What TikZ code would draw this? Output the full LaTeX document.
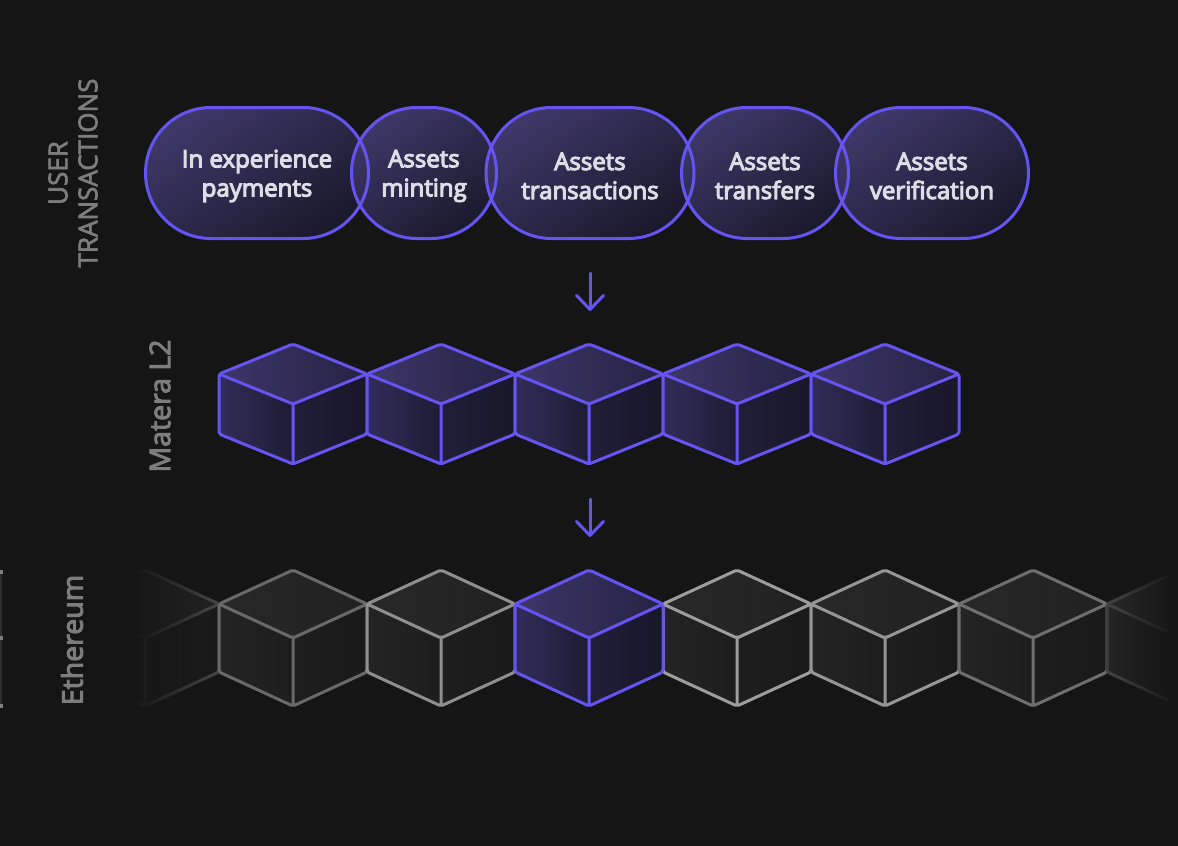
\documentclass[tikz,border=0pt]{standalone}
\usepackage{fontspec}
\setmainfont{Open Sans}
\newfontfamily\pillfont{Open Sans}[FakeBold=4.5]
\newfontfamily\rowfont{Open Sans}[FakeBold=3.5]
\newfontfamily\sidefont{Open Sans}[FakeBold=2.5]
\usetikzlibrary{arrows.meta,shapes.misc,fadings}

\definecolor{bg}{RGB}{21,21,22}
\definecolor{violet}{RGB}{102,84,240}
\definecolor{pilltop}{RGB}{62,55,104}
\definecolor{pillbot}{RGB}{27,25,44}
\definecolor{pilltext}{RGB}{222,221,230}
\definecolor{sidegrey}{RGB}{125,125,125}

\tikzfading[name=fadeleft, left color=transparent!0, right color=transparent!100]
\tikzfading[name=faderight, left color=transparent!100, right color=transparent!0]

\tikzset{
    pill/.style={rounded rectangle, minimum height=131pt, inner sep=0pt},
    pillfill/.style={pill, top color=pilltop, bottom color=pillbot, shading angle=35},
    pillline/.style={pill, draw=violet, line width=3pt},
    pilltext/.style={text=pilltext, align=center, inner sep=0pt,
        font=\pillfont\fontsize{24}{29}\selectfont},
    sidelabel/.style={rotate=90, align=center, text=sidegrey},
    flow/.style={violet, line width=3pt, line cap=round,
        -{Straight Barb[length=14pt, width=27pt, round]}},
    edge/.style={line width=3pt, line join=round, rounded corners=2pt},
    violettop/.style={left color={rgb,255:red,62;green,54;blue,105}, right color={rgb,255:red,38;green,34;blue,68}},
    violetleft/.style={left color={rgb,255:red,50;green,44;blue,90}, right color={rgb,255:red,30;green,28;blue,52}},
    violetright/.style={left color={rgb,255:red,33;green,30;blue,57}, right color={rgb,255:red,24;green,22;blue,40}},
    greytop/.style={left color={rgb,255:red,40;green,40;blue,40}, right color={rgb,255:red,33;green,33;blue,33}},
    greyleft/.style={left color={rgb,255:red,36;green,36;blue,36}, right color={rgb,255:red,29;green,29;blue,29}},
    greyright/.style={left color={rgb,255:red,30;green,30;blue,30}, right color={rgb,255:red,25;green,25;blue,25}},
    pics/block/.style args={#1/#2/#3}{code={
        \shade[#2top] (0,0) -- (74,#1) -- (0,2*#1) -- (-74,#1) -- cycle;
        \shade[#2left] (-74,#1) -- (0,2*#1) -- (0,4*#1) -- (-74,3*#1) -- cycle;
        \shade[#2right] (0,2*#1) -- (74,#1) -- (74,3*#1) -- (0,4*#1) -- cycle;
        \draw[edge, draw=#3] (0,0) -- (74,#1) -- (74,3*#1) -- (0,4*#1) -- (-74,3*#1) -- (-74,#1) -- cycle
            (-74,#1) -- (0,2*#1) -- (74,#1) (0,2*#1) -- (0,4*#1);
    }}
}

\begin{document}
\begin{tikzpicture}[x=1pt, y=-1pt]
    \useasboundingbox (0,0) rectangle (1178,846);
    \fill[bg] (0,0) rectangle (1178,846);

    % user transactions
    \node[sidelabel, font=\sidefont\fontsize{26}{30}\selectfont] (usertx) at (73,173) {USER\\TRANSACTIONS};
    \foreach \n/\x/\w in {pay/257/223, mint/424/145, trans/590/208, transf/765/167, verif/932/193}
        \node[pillfill, minimum width=\w pt] (\n-fill) at (\x,173) {};
    \foreach \n/\x/\w/\txt in {pay/257/223/{In experience\\payments},
                               mint/424/145/{Assets\\minting},
                               trans/590/208/{Assets\\transactions},
                               transf/765/167/{Assets\\transfers},
                               verif/932/193/{Assets\\verification}}{
        \node[pillline, minimum width=\w pt] (\n) at (\x,173) {};
        \node[pilltext] (\n-text) at ([yshift=-3pt]\n.center) {\txt};
    }

    \coordinate (flowA-start) at (590,273);
    \coordinate (flowA-end) at (590,311);
    \draw[flow] (flowA-start) -- (flowA-end);

    % matera l2
    \node[sidelabel, font=\rowfont\fontsize{28.5}{30}\selectfont] (matera) at (160,406) {Matera L2};
    \foreach \cx in {293,441,589,737,885}
        \pic at (\cx,344) {block={30/violet/violet}};

    \coordinate (flowB-start) at (590,499);
    \coordinate (flowB-end) at (590,537);
    \draw[flow] (flowB-start) -- (flowB-end);

    % ethereum
    \node[sidelabel, font=\rowfont\fontsize{28.5}{30}\selectfont] (ethereum) at (72,640) {Ethereum};
    \begin{scope}
        \clip (138,550) rectangle (1168,730);
        \foreach \cx/\edge in {145/20,293/36,441/52,737/58,885/55,1033/38,1181/18}
            \pic at (\cx,570) {block={34/grey/white!\edge!bg}};
        \pic at (589,570) {block={34/violet/violet}};
        \fill[bg, path fading=fadeleft] (130,550) rectangle (215,730);
        \fill[bg, path fading=faderight] (1115,550) rectangle (1178,730);
    \end{scope}

    \fill[white!10!bg] (0,570) rectangle (1.5,708);
    \foreach \ty in {570,636,704}
        \fill[white!45!bg] (0,\ty) rectangle (2.5,\ty+4);
\end{tikzpicture}
\end{document}
